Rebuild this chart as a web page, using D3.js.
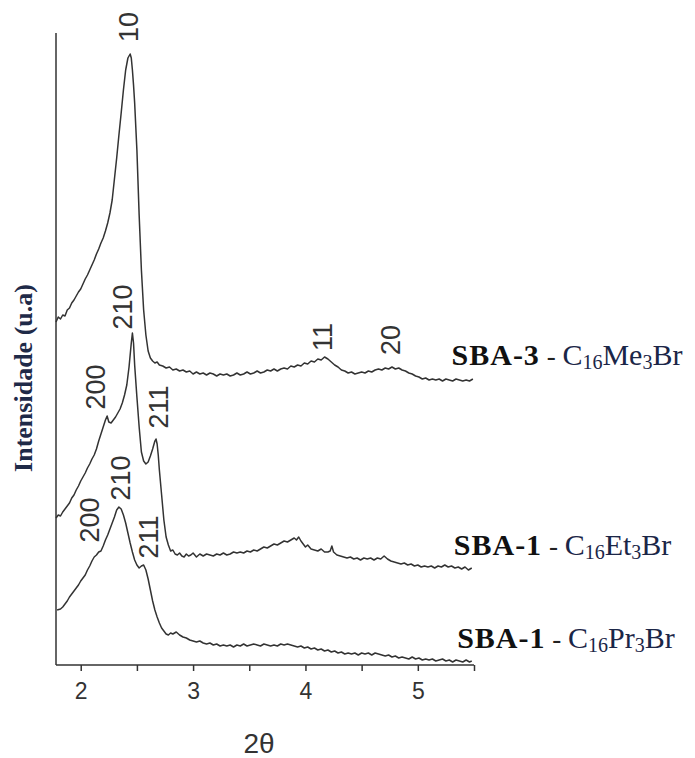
<!DOCTYPE html>
<meta charset="utf-8">
<html lang="pt">
  <head>
    <style>
      body { margin: 0; background-color: #fff; }
      .curve { fill: none; stroke: #333; stroke-width: 1.5px; stroke-linejoin: round; }
      .axis path, .axis line { stroke: #333; stroke-width: 1.5px; }
      .axis text { font-family: "Liberation Sans", Arial, sans-serif; font-size: 23px; fill: #333; }
      .peak { font-family: "Liberation Sans", Arial, sans-serif; font-size: 27px; fill: #333; }
      .serie { font-family: "Liberation Serif", "Times New Roman", serif; font-size: 30px; }
    </style>
  </head>

  <body>

    <script src="https://cdn.jsdelivr.net/npm/d3@7"></script>

    <svg></svg>

    <script>

      // SBA-3 - C16Me3Br  [2theta, intensidade (u.a)]
      var sba3Me = [
        [1.78,343],[1.80,348],[1.82,346],[1.84,350],[1.86,349],[1.88,355],[1.90,357],[1.92,362],[1.94,365],
        [1.96,369],[1.98,373],[2.00,376],[2.02,381],[2.04,386],[2.06,390],[2.08,395],[2.10,400],[2.12,405],
        [2.14,411],[2.16,416],[2.18,422],[2.20,427],[2.22,434],[2.24,442],[2.26,452],[2.28,465],[2.30,486],
        [2.32,507],[2.34,530],[2.36,552],[2.38,575],[2.40,595],[2.42,607],[2.44,611],[2.45,607],[2.46,595],
        [2.47,580],[2.48,562],[2.50,515],[2.52,450],[2.54,395],[2.56,355],[2.58,330],[2.60,314],[2.62,307],
        [2.64,304],[2.66,302],[2.68,303],[2.70,300],[2.73,299],[2.76,297],[2.79,298],[2.82,295],[2.85,296],
        [2.88,294],[2.91,295],[2.94,293],[2.97,294],[3.00,291],[3.03,293],[3.06,291],[3.09,292],[3.12,290],
        [3.15,292],[3.18,291],[3.21,289],[3.24,291],[3.27,290],[3.30,291],[3.33,289],[3.36,290],[3.39,292],
        [3.42,290],[3.45,291],[3.48,293],[3.51,291],[3.54,292],[3.57,294],[3.60,292],[3.63,293],[3.66,295],
        [3.69,294],[3.72,296],[3.75,294],[3.78,296],[3.81,297],[3.84,296],[3.87,299],[3.90,298],[3.93,300],
        [3.96,299],[3.99,302],[4.02,301],[4.05,304],[4.08,303],[4.11,306],[4.14,305],[4.17,308],[4.20,306],
        [4.23,303],[4.26,300],[4.29,298],[4.32,295],[4.35,294],[4.38,292],[4.41,293],[4.44,291],[4.47,292],
        [4.50,293],[4.53,292],[4.56,294],[4.59,293],[4.62,295],[4.65,296],[4.68,295],[4.71,297],[4.74,296],
        [4.77,298],[4.80,296],[4.83,297],[4.86,295],[4.89,294],[4.92,292],[4.95,291],[4.98,289],[5.01,288],
        [5.04,286],[5.07,287],[5.10,285],[5.13,286],[5.16,285],[5.19,286],[5.22,284],[5.25,286],[5.28,285],
        [5.31,284],[5.34,286],[5.37,285],[5.40,284],[5.43,285],[5.46,284],[5.49,286]
      ];

      // SBA-1 - C16Et3Br
      var sba1Et = [
        [1.78,147],[1.80,150],[1.82,149],[1.84,153],[1.86,156],[1.88,159],[1.90,162],[1.92,167],[1.94,170],
        [1.96,175],[1.98,179],[2.00,184],[2.02,188],[2.04,192],[2.06,197],[2.08,201],[2.10,206],[2.12,210],
        [2.14,216],[2.16,224],[2.18,231],[2.20,238],[2.22,245],[2.235,249],[2.25,243],[2.27,242],[2.29,245],
        [2.31,248],[2.33,252],[2.35,256],[2.37,262],[2.39,270],[2.41,280],[2.43,298],[2.45,322],[2.46,332],
        [2.47,322],[2.48,300],[2.50,268],[2.52,238],[2.54,213],[2.56,204],[2.58,201],[2.60,203],[2.62,209],
        [2.64,216],[2.66,224],[2.67,226],[2.68,221],[2.69,210],[2.70,195],[2.72,170],[2.74,145],[2.76,128],
        [2.78,120],[2.80,114],[2.82,115],[2.84,111],[2.86,110],[2.88,112],[2.90,109],[2.92,108],[2.94,111],
        [2.96,109],[2.98,110],[3.00,112],[3.03,108],[3.06,111],[3.09,109],[3.12,111],[3.15,110],[3.18,109],
        [3.21,111],[3.24,110],[3.27,112],[3.30,110],[3.33,111],[3.36,113],[3.39,112],[3.42,113],[3.45,112],
        [3.48,114],[3.51,113],[3.54,115],[3.57,114],[3.60,116],[3.63,118],[3.66,117],[3.69,119],[3.72,121],
        [3.75,120],[3.78,122],[3.81,124],[3.84,123],[3.87,125],[3.90,127],[3.92,125],[3.94,128],[3.96,124],
        [3.98,121],[4.00,118],[4.02,120],[4.05,116],[4.08,115],[4.11,114],[4.14,116],[4.17,113],[4.20,113],
        [4.22,114],[4.235,119],[4.25,113],[4.28,110],[4.31,109],[4.34,108],[4.37,107],[4.40,108],[4.43,106],
        [4.46,107],[4.49,105],[4.52,107],[4.55,106],[4.58,107],[4.61,105],[4.64,107],[4.67,106],[4.70,109],
        [4.73,106],[4.76,104],[4.79,103],[4.82,102],[4.85,101],[4.88,102],[4.91,100],[4.94,101],[4.97,99],
        [5.00,100],[5.03,98],[5.06,99],[5.09,98],[5.12,99],[5.15,97],[5.18,99],[5.21,98],[5.24,100],
        [5.27,98],[5.30,99],[5.33,97],[5.36,98],[5.39,96],[5.42,98],[5.45,95],[5.48,97]
      ];

      // SBA-1 - C16Pr3Br
      var sba1Pr = [
        [1.79,55],[1.82,56],[1.84,58],[1.86,61],[1.88,64],[1.90,68],[1.92,71],[1.94,74],[1.96,77],
        [1.98,80],[2.00,84],[2.02,87],[2.04,90],[2.06,95],[2.08,99],[2.10,104],[2.12,108],[2.14,110],
        [2.16,113],[2.18,114],[2.20,119],[2.22,125],[2.24,130],[2.26,136],[2.28,142],[2.30,148],[2.32,155],
        [2.34,158],[2.36,156],[2.38,150],[2.40,142],[2.42,132],[2.44,122],[2.46,113],[2.48,105],[2.50,100],
        [2.52,97],[2.54,99],[2.56,100],[2.58,95],[2.60,86],[2.62,75],[2.64,64],[2.66,55],[2.68,48],
        [2.70,42],[2.72,37],[2.74,34],[2.76,31],[2.78,30],[2.80,32],[2.82,31],[2.85,33],[2.88,30],
        [2.91,28],[2.94,27],[2.97,25],[3.00,24],[3.03,23],[3.06,24],[3.09,22],[3.12,21],[3.15,22],
        [3.18,20],[3.21,21],[3.24,19],[3.27,20],[3.30,19],[3.33,20],[3.36,18],[3.39,20],[3.42,19],
        [3.45,21],[3.48,19],[3.51,20],[3.54,21],[3.57,20],[3.60,19],[3.63,21],[3.66,20],[3.69,19],
        [3.72,20],[3.75,19],[3.78,21],[3.81,20],[3.84,21],[3.87,20],[3.90,19],[3.93,18],[3.96,19],
        [3.99,17],[4.02,18],[4.05,16],[4.08,17],[4.11,15],[4.14,16],[4.17,14],[4.20,15],[4.23,13],
        [4.26,14],[4.29,12],[4.32,13],[4.35,11],[4.38,12],[4.41,11],[4.44,12],[4.47,10],[4.50,12],
        [4.53,11],[4.56,12],[4.59,10],[4.62,12],[4.65,11],[4.68,10],[4.71,9],[4.74,10],[4.77,8],
        [4.80,9],[4.83,7],[4.86,8],[4.89,7],[4.92,6],[4.95,8],[4.98,6],[5.01,7],[5.04,5],[5.07,6],
        [5.10,5],[5.13,6],[5.16,4],[5.19,5],[5.22,6],[5.25,4],[5.28,5],[5.31,3],[5.34,5],[5.37,4],
        [5.40,3],[5.43,5],[5.46,3],[5.48,4]
      ];

      // indices (hk / hkl) escritos sobre os picos: texto, 2theta, intensidade
      var peakLabels = [
        ["10", 2.43, 638],
        ["11", 4.16, 328],
        ["20", 4.76, 325],
        ["200", 2.14, 278],
        ["210", 2.38, 358],
        ["211", 2.70, 258],
        ["200", 2.08, 145],
        ["210", 2.36, 187],
        ["211", 2.61, 128]
      ];

      // legendas das curvas: material, surfactante, subscritos
      var serieNames = ["SBA-3", "SBA-1", "SBA-1"];
      var serieSurf = [["C", "16", "Me", "3", "Br"], ["C", "16", "Et", "3", "Br"], ["C", "16", "Pr", "3", "Br"]];
      var serieAt = [[5.30, 300], [5.32, 110], [5.35, 17]];

      var xTicks = [2, 2.5, 3, 3.5, 4, 4.5, 5, 5.5];

      var width = 695,
        height = 758;

      var svg = d3.select("svg")
        .attr("width", width)
        .attr("height", height);

      var xScale = d3.scaleLinear()
        .domain([1.78, 5.5])
        .range([56, 474]);

      var yScale = d3.scaleLinear()
        .domain([0, 632])
        .range([665, 33]);

      var line = d3.line()
        .x(function(d) { return xScale(d[0]); })
        .y(function(d) { return yScale(d[1]); });

      [sba3Me, sba1Et, sba1Pr].forEach(function(s) {
        svg.append("path")
          .attr("class", "curve")
          .attr("d", line(s));
      });

      // eixo x
      var xAxis = svg.append("g")
        .attr("class", "axis")
        .attr("transform", "translate(0,665)")
        .call(d3.axisBottom(xScale)
          .tickValues(xTicks)
          .tickSize(6)
          .tickPadding(12)
          .tickFormat(function(d) { return d % 1 === 0 ? d : ""; }));
      xAxis.select(".domain").attr("d", "M56,0H474");

      // eixo y (so a linha)
      svg.append("line")
        .attr("x1", 56).attr("x2", 56)
        .attr("y1", yScale(632)).attr("y2", yScale(0))
        .attr("stroke", "#333")
        .attr("stroke-width", 1.5);

      svg.selectAll(".peak")
        .data(peakLabels)
        .enter().append("text")
        .attr("class", "peak")
        .attr("text-anchor", "middle")
        .attr("dominant-baseline", "central")
        .attr("transform", function(d) {
          return "translate(" + xScale(d[1]) + "," + yScale(d[2]) + ") rotate(-90)";
        })
        .text(function(d) { return d[0]; });

      serieNames.forEach(function(name, i) {
        var t = svg.append("text")
          .attr("class", "serie")
          .attr("x", xScale(serieAt[i][0]))
          .attr("y", yScale(serieAt[i][1]));
        t.append("tspan")
          .attr("font-weight", "bold")
          .attr("letter-spacing", "1px")
          .attr("fill", "#111")
          .text(name);
        t.append("tspan")
          .attr("fill", "#222")
          .attr("font-size", "27px")
          .text(" - ");
        serieSurf[i].forEach(function(p, j) {
          var sub = j % 2 === 1;
          t.append("tspan")
            .attr("fill", "#1b2647")
            .attr("font-size", sub ? "20px" : "30px")
            .attr("dy", sub ? 4 : (j > 0 ? -4 : 0))
            .text(p);
        });
      });

      svg.append("text")
        .attr("transform", "translate(32,378) rotate(-90)")
        .attr("text-anchor", "middle")
        .attr("font-family", "'Liberation Serif', 'Times New Roman', serif")
        .attr("font-weight", "bold")
        .attr("font-size", "26px")
        .attr("fill", "#1f2a48")
        .text("Intensidade (u.a)");

      svg.append("text")
        .attr("x", 259)
        .attr("y", 753)
        .attr("text-anchor", "middle")
        .attr("font-family", "'Liberation Sans', Arial, sans-serif")
        .attr("font-size", "28px")
        .attr("fill", "#333")
        .text("2θ");

    </script>

  </body>
</html>
